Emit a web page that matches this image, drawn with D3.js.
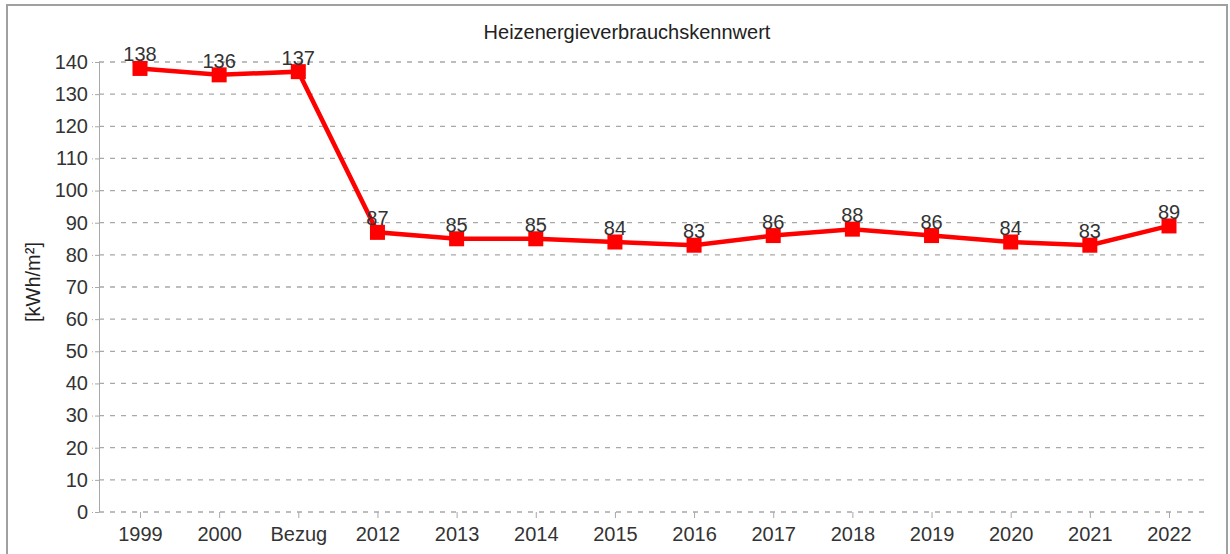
<!DOCTYPE html>
<html>
<head>
<meta charset="utf-8">
<script src="https://cdn.jsdelivr.net/npm/d3@7"></script>
<style>
  body { margin: 0; background: #fff; }
  text { font-family: "Liberation Sans", Arial, sans-serif; }
</style>
</head>
<body>
<div id="chart"></div>
<script>
// data
var categories = ["1999", "2000", "Bezug", "2012", "2013", "2014", "2015", "2016", "2017", "2018", "2019", "2020", "2021", "2022"];
var values = [138, 136, 137, 87, 85, 85, 84, 83, 86, 88, 86, 84, 83, 89];
var yTicks = [0, 10, 20, 30, 40, 50, 60, 70, 80, 90, 100, 110, 120, 130, 140];

var W = 1230, H = 554;
var margin = { top: 62, right: 23, bottom: 42, left: 99 },
    width = W - margin.left - margin.right,
    height = H - margin.top - margin.bottom;

var root = d3.select("#chart")
    .append("svg")
    .attr("width", W)
    .attr("height", H);

// outer frame
root.append("rect")
    .attr("x", 7).attr("y", 5)
    .attr("width", 1220).attr("height", 600)
    .attr("fill", "none")
    .attr("stroke", "#a0a0a0")
    .attr("stroke-width", 2);

var svg = root.append("g")
    .attr("transform", "translate(" + margin.left + "," + margin.top + ")");

var x = d3.scalePoint()
    .domain(categories)
    .range([41, width - 38]);

var y = d3.scaleLinear()
    .domain([0, 140])
    .range([height, 0]);

// grid lines
svg.append("g")
    .selectAll("line")
    .data(yTicks)
    .join("line")
    .attr("x1", 0)
    .attr("x2", width)
    .attr("y1", function (d) { return y(d); })
    .attr("y2", function (d) { return y(d); })
    .attr("stroke", "#a8a8a8")
    .attr("stroke-width", 1.3)
    .attr("stroke-dasharray", "5,6");

// Y axis
var yAxis = svg.append("g")
    .call(d3.axisLeft(y).tickValues(yTicks).tickSize(7).tickPadding(4));
yAxis.select(".domain").attr("stroke", "#a8a8a8").attr("d", "M0.5," + y(140) + "V" + height);
yAxis.selectAll(".tick line").attr("stroke", "#a8a8a8").attr("stroke-dasharray", "4,2");
yAxis.selectAll(".tick text")
    .style("font-size", "20px")
    .attr("fill", "#333");

// X axis
var xAxis = svg.append("g")
    .attr("transform", "translate(0," + height + ")")
    .call(d3.axisBottom(x).tickSize(6).tickPadding(9));
xAxis.select(".domain").remove();
xAxis.selectAll(".tick line").attr("stroke", "#a8a8a8");
xAxis.selectAll(".tick text")
    .style("font-size", "20px")
    .attr("fill", "#333");

// line
var line = d3.line()
    .x(function (d, i) { return x(categories[i]); })
    .y(function (d) { return y(d); });

svg.append("path")
    .datum(values)
    .attr("d", line)
    .attr("fill", "none")
    .attr("stroke", "#ff0000")
    .attr("stroke-width", 4.5);

// markers
var s = 15;
svg.append("g")
    .selectAll("rect")
    .data(values)
    .join("rect")
    .attr("x", function (d, i) { return x(categories[i]) - s / 2; })
    .attr("y", function (d) { return y(d) - s / 2; })
    .attr("width", s)
    .attr("height", s)
    .attr("fill", "#ff0000");

// value labels
svg.append("g")
    .selectAll("text")
    .data(values)
    .join("text")
    .attr("x", function (d, i) { return x(categories[i]); })
    .attr("y", function (d) { return y(d) - 7; })
    .attr("text-anchor", "middle")
    .style("font-size", "20px")
    .attr("fill", "#333")
    .text(function (d) { return d; });

// title
root.append("text")
    .attr("x", 627)
    .attr("y", 39)
    .attr("text-anchor", "middle")
    .style("font-size", "20px")
    .attr("fill", "#222")
    .text("Heizenergieverbrauchskennwert");

// Y axis label
root.append("text")
    .attr("transform", "translate(40,282) rotate(-90)")
    .attr("text-anchor", "middle")
    .style("font-size", "20px")
    .attr("fill", "#222")
    .text("[kWh/m²]");
</script>
</body>
</html>
